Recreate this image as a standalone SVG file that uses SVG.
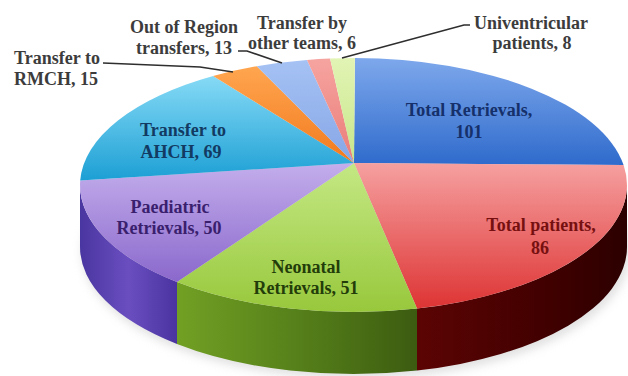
<svg xmlns="http://www.w3.org/2000/svg" width="628" height="376" viewBox="0 0 628 376">
<style>
.lbl{font-family:"Liberation Serif","Times New Roman",serif;font-weight:bold;font-size:18px;text-anchor:middle}
.out{fill:#3c3c3c}
.lead{fill:none;stroke:#2e2e2e;stroke-width:1.6}
</style>
<defs>
<linearGradient id="gBlue" x1="0" y1="0" x2="0" y2="1"><stop offset="0" stop-color="#7ea8ec"/><stop offset="1" stop-color="#2f6bcc"/></linearGradient>
<linearGradient id="gRed" x1="0" y1="0" x2="0" y2="1"><stop offset="0" stop-color="#f6a0a0"/><stop offset="1" stop-color="#de3434"/></linearGradient>
<linearGradient id="gGreen" x1="0" y1="0" x2="0" y2="1"><stop offset="0" stop-color="#c4e884"/><stop offset="1" stop-color="#98c83c"/></linearGradient>
<linearGradient id="gPurple" x1="0" y1="0" x2="0" y2="1"><stop offset="0" stop-color="#c4aeec"/><stop offset="1" stop-color="#8a68cc"/></linearGradient>
<linearGradient id="gCyan" x1="0" y1="0" x2="0" y2="1"><stop offset="0" stop-color="#86daf6"/><stop offset="1" stop-color="#1c9fd4"/></linearGradient>
<linearGradient id="gOrange" x1="0" y1="0" x2="0" y2="1"><stop offset="0" stop-color="#ffa650"/><stop offset="1" stop-color="#f27a1e"/></linearGradient>
<linearGradient id="gPeri" x1="0" y1="0" x2="0" y2="1"><stop offset="0" stop-color="#a6c2f4"/><stop offset="1" stop-color="#86a6e6"/></linearGradient>
<linearGradient id="gPink" x1="0" y1="0" x2="0" y2="1"><stop offset="0" stop-color="#f6a4a0"/><stop offset="1" stop-color="#ea7c78"/></linearGradient>
<linearGradient id="gLime" x1="0" y1="0" x2="0" y2="1"><stop offset="0" stop-color="#e2f4b4"/><stop offset="1" stop-color="#c6e68a"/></linearGradient>
<linearGradient id="sRed" x1="0" y1="0" x2="1" y2="0"><stop offset="0" stop-color="#5c0404"/><stop offset="0.6" stop-color="#420000"/><stop offset="1" stop-color="#2c0000"/></linearGradient>
<linearGradient id="sGreen" x1="0" y1="0" x2="1" y2="0"><stop offset="0" stop-color="#72a024"/><stop offset="0.5" stop-color="#56801a"/><stop offset="1" stop-color="#3c5c10"/></linearGradient>
<linearGradient id="sPurple" x1="0" y1="0" x2="1" y2="0"><stop offset="0" stop-color="#4a36a0"/><stop offset="0.5" stop-color="#6a4ec0"/><stop offset="1" stop-color="#4a34a0"/></linearGradient>
<filter id="blur" x="-20%" y="-20%" width="140%" height="140%"><feGaussianBlur stdDeviation="5"/></filter>
</defs>
<rect width="628" height="376" fill="#ffffff"/>
<ellipse cx="356" cy="252" rx="274" ry="127" fill="#c8c8c8" opacity="0.55" filter="url(#blur)"/>
<g id="side-red"><path d="M627,185 A273.5,127 0 0 1 417,308.5 L417,370.5 A273.5,127 0 0 0 627,247 Z" fill="url(#sRed)"/></g>
<g id="side-green"><path d="M417,308.5 A273.5,127 0 0 1 177,282 L177,344 A273.5,127 0 0 0 417,370.5 Z" fill="url(#sGreen)"/></g>
<g id="side-purple"><path d="M177,282 A273.5,127 0 0 1 80,185 L80,247 A273.5,127 0 0 0 177,344 Z" fill="url(#sPurple)"/></g>
<g id="total-retrievals"><path d="M354,163 L354.9,58 A273.5,127 0 0 1 623.6,165.1 Z" fill="url(#gBlue)"/>
<text class="lbl" x="469" y="116" fill="#15306a">Total Retrievals,</text><text class="lbl" x="469" y="138" fill="#15306a">101</text></g>
<g id="total-patients"><path d="M354,163 L623.6,165.1 A273.5,127 0 0 1 417,308.5 Z" fill="url(#gRed)"/>
<text class="lbl" x="541" y="231" fill="#761010">Total patients,</text><text class="lbl" x="540" y="254" fill="#761010">86</text></g>
<g id="neonatal"><path d="M354,163 L417,308.5 A273.5,127 0 0 1 177,282 Z" fill="url(#gGreen)"/>
<text class="lbl" x="306" y="273" fill="#233d0a">Neonatal</text><text class="lbl" x="306" y="294" fill="#233d0a">Retrievals, 51</text></g>
<g id="paediatric"><path d="M354,163 L177,282 A273.5,127 0 0 1 80.2,180.6 Z" fill="url(#gPurple)"/>
<text class="lbl" x="170" y="213" fill="#3a1f6e">Paediatric</text><text class="lbl" x="169" y="234" fill="#3a1f6e">Retrievals, 50</text></g>
<g id="ahch"><path d="M354,163 L80.2,180.6 A273.5,127 0 0 1 213.1,76 Z" fill="url(#gCyan)"/>
<text class="lbl" x="183" y="136" fill="#123a62">Transfer to</text><text class="lbl" x="181" y="158" fill="#123a62">AHCH, 69</text></g>
<g id="rmch"><path d="M354,163 L213.1,76 A273.5,127 0 0 1 256.8,66.2 Z" fill="url(#gOrange)"/>
<text class="lbl out" x="57" y="64">Transfer to</text><text class="lbl out" x="56" y="85">RMCH, 15</text></g>
<g id="out-of-region"><path d="M354,163 L256.8,66.2 A273.5,127 0 0 1 307,59.9 Z" fill="url(#gPeri)"/>
<text class="lbl out" x="184" y="33">Out of Region</text><text class="lbl out" x="184" y="54">transfers, 13</text></g>
<g id="other-teams"><path d="M354,163 L307,59.9 A273.5,127 0 0 1 330.1,58.5 Z" fill="url(#gPink)"/>
<text class="lbl out" x="302" y="29">Transfer by</text><text class="lbl out" x="302" y="49">other teams, 6</text></g>
<g id="univentricular"><path d="M354,163 L330.1,58.5 A273.5,127 0 0 1 354.9,58 Z" fill="url(#gLime)"/>
<text class="lbl out" x="531" y="29">Univentricular</text><text class="lbl out" x="532" y="49">patients, 8</text></g>
<g id="connectors">
<polyline class="lead" points="103,63 200,67 233,72"/>
<polyline class="lead" points="238,51 247,51 282,63"/>
<polyline class="lead" points="470,25 464,25 342,58"/>
</g>
</svg>
